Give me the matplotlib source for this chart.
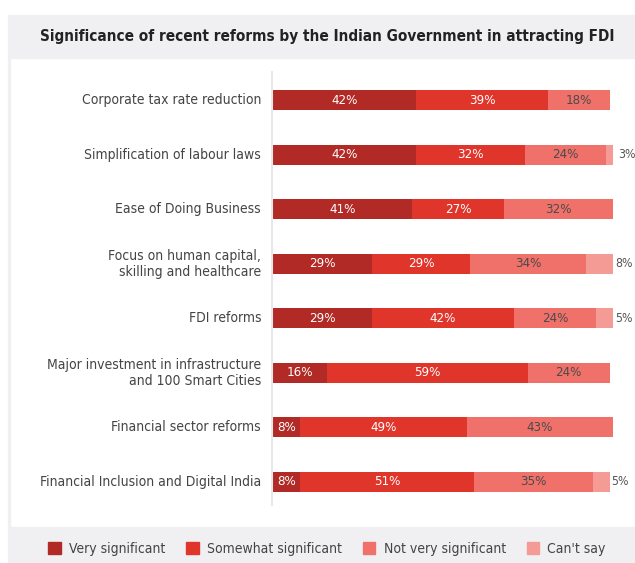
import matplotlib
matplotlib.use('Agg')
import matplotlib.pyplot as plt
import matplotlib.patches as mpatches
from matplotlib import font_manager
import numpy as np

# pick a condensed face when one is installed
names = {f.name for f in font_manager.fontManager.ttflist}
if 'Liberation Sans Narrow' in names:
    plt.rcParams['font.family'] = ['Liberation Sans Narrow', 'DejaVu Sans']
else:
    plt.rcParams['font.family'] = ['DejaVu Sans']
    plt.rcParams['font.stretch'] = 'condensed'

reforms = [
    'Corporate tax rate reduction',
    'Simplification of labour laws',
    'Ease of Doing Business',
    'Focus on human capital,\nskilling and healthcare',
    'FDI reforms',
    'Major investment in infrastructure\nand 100 Smart Cities',
    'Financial sector reforms',
    'Financial Inclusion and Digital India',
]
very = [42, 42, 41, 29, 29, 16, 8, 8]
somewhat = [39, 32, 27, 29, 42, 59, 49, 51]
not_very = [18, 24, 32, 34, 24, 24, 43, 35]
cant_say = [0, 3, 0, 8, 5, 0, 0, 5]

series = ['Very significant', 'Somewhat significant', 'Not very significant', "Can't say"]
colors = ['#b22a25', '#e0352b', '#f0716a', '#f59b96']
text_colors = ['white', 'white', '#4a4a4a', None]

W, H = 635, 563
fig = plt.figure(figsize=(W / 100, H / 100), dpi=100)

# grey bands for title and legend
fig.patches.append(mpatches.Rectangle((8 / W, 1 - 58 / H), 1, 43 / H, transform=fig.transFigure,
                                      color='#f0f0f3', zorder=0))
fig.patches.append(mpatches.Rectangle((8 / W, 0), 1, 36 / H, transform=fig.transFigure,
                                      color='#f0f0f3', zorder=0))
fig.patches.append(mpatches.Rectangle((8 / W, 36 / H), 1.5 / W, (563 - 58 - 36) / H,
                                      transform=fig.transFigure, color='#f0f0f3', zorder=0))

fig.text(327 / W, 1 - 37 / H, 'Significance of recent reforms by the Indian Government in attracting FDI',
         ha='center', va='center', fontsize=11, fontweight='bold', color='#222222')

ax = fig.add_axes([273 / W, 1 - 509 / H, 340 / W, 436 / H])
ax.set_xlim(0, 100)
ax.set_ylim(len(reforms) - 0.5, -0.5)
ax.axis('off')

y = np.arange(len(reforms))
left = np.zeros(len(reforms))
for vals, col, tcol, name in zip([very, somewhat, not_very, cant_say], colors, text_colors, series):
    vals = np.array(vals, dtype=float)
    ax.barh(y, vals, left=left, height=0.37, color=col, label=name)
    for yi, l, v in zip(y, left, vals):
        if v <= 0:
            continue
        if tcol is None:
            # small "can't say" shares are labelled just past the bar end
            ax.text(l + v + 0.6, yi, f'{int(v)}%', ha='left', va='center', fontsize=8.8,
                    color='#555555', clip_on=False)
        else:
            ax.text(l + v / 2, yi, f'{int(v)}%', ha='center', va='center', fontsize=9.5,
                    color=tcol)
    left += vals

for yi, name in zip(y, reforms):
    ax.text(-3.5, yi, name, ha='right', va='center', fontsize=10, color='#444444',
            multialignment='right', linespacing=1.15)

# light axis line along bar starts
fig.add_artist(plt.Line2D([272 / W, 272 / W], [1 - 505 / H, 1 - 72 / H], color='#e8e8ec', lw=1.5))

handles = [mpatches.Patch(color=c) for c in colors]
fig.legend(handles, series, loc='center', bbox_to_anchor=(327 / W, 14 / H), ncol=4,
           frameon=False, fontsize=10, handlelength=0.9, handleheight=1.0,
           handletextpad=0.6, columnspacing=1.5, labelcolor='#444444')

fig.savefig('out.png', dpi=100)
